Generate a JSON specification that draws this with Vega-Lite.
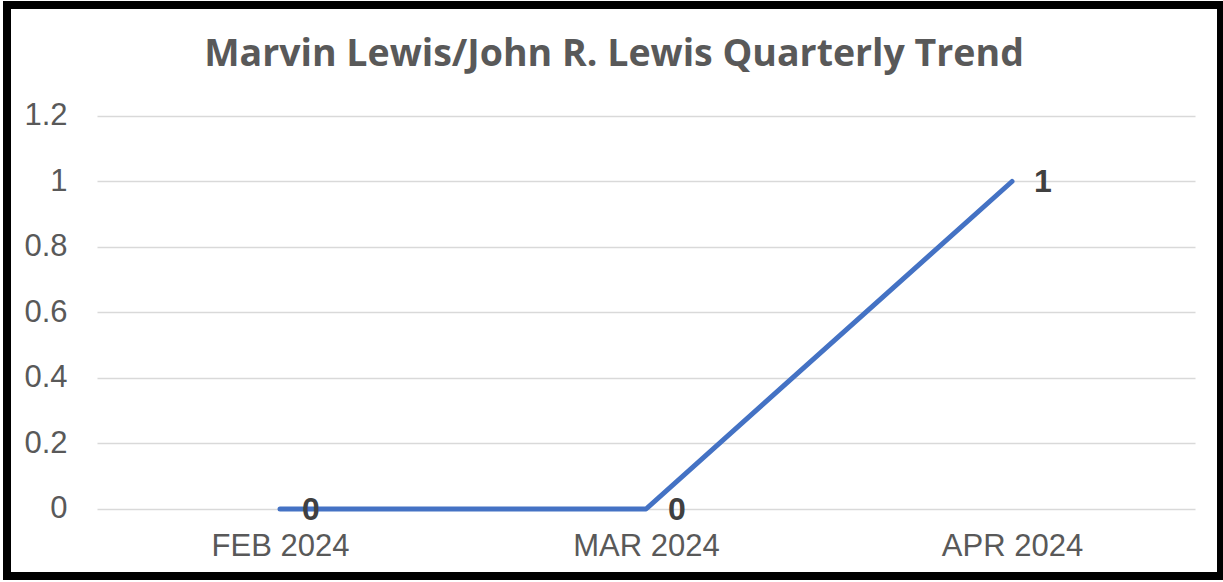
{
  "$schema": "https://vega.github.io/schema/vega-lite/v6.json",
  "autosize": {"type": "none"},
  "width": 1214,
  "height": 571,
  "padding": {"left": 7, "top": 5, "right": 2, "bottom": 6},
  "background": "white",
  "config": {"view": {"stroke": null}},
  "title": {
    "text": "Marvin Lewis/John R. Lewis Quarterly Trend",
    "font": "Open Sans",
    "fontSize": 37.5,
    "fontWeight": "bold",
    "color": "#595959",
    "anchor": "middle",
    "baseline": "alphabetic",
    "offset": -102
  },
  "data": {
    "values": [
      {"month": "FEB 2024", "count": 0},
      {"month": "MAR 2024", "count": 0},
      {"month": "APR 2024", "count": 1}
    ]
  },
  "layer": [
    {
      "mark": {"type": "line", "color": "#4472C4", "strokeWidth": 5, "strokeCap": "round", "strokeJoin": "round"},
      "encoding": {
        "x": {
          "field": "month",
          "type": "ordinal",
          "sort": null,
          "scale": {"type": "point", "padding": 0.6585, "align": 0.5664},
          "axis": {
            "title": null,
            "domain": false,
            "ticks": false,
            "grid": false,
            "labelAngle": 0,
            "labelFont": "Liberation Sans",
            "labelFontSize": 31,
            "labelColor": "#595959",
            "labelBaseline": "top",
            "labelPadding": -45
          }
        },
        "y": {
          "field": "count",
          "type": "quantitative",
          "scale": {"domain": [-0.2046, 1.5389], "nice": false, "zero": false},
          "axis": {
            "title": null,
            "values": [0, 0.2, 0.4, 0.6, 0.8, 1, 1.2],
            "format": "~g",
            "domain": false,
            "grid": false,
            "ticks": true,
            "tickSize": -1098,
            "tickColor": "#d9d9d9",
            "tickWidth": 1.5,
            "offset": -90,
            "labelPadding": 1128,
            "labelFont": "Liberation Sans",
            "labelFontSize": 31,
            "labelColor": "#595959",
            "labelBaseline": "middle",
            "labelAlign": "right"
          }
        }
      }
    },
    {
      "mark": {"type": "text", "align": "left", "baseline": "middle", "dx": 22, "dy": 1, "font": "Liberation Sans", "fontSize": 32, "fontWeight": "bold", "color": "#404040"},
      "encoding": {
        "x": {"field": "month", "type": "ordinal", "sort": null},
        "y": {"field": "count", "type": "quantitative"},
        "text": {"field": "count", "type": "quantitative"}
      }
    },
    {
      "data": {"values": [{}]},
      "mark": {"type": "rect", "fill": null, "stroke": "black", "strokeWidth": 8},
      "encoding": {}
    }
  ]
}
